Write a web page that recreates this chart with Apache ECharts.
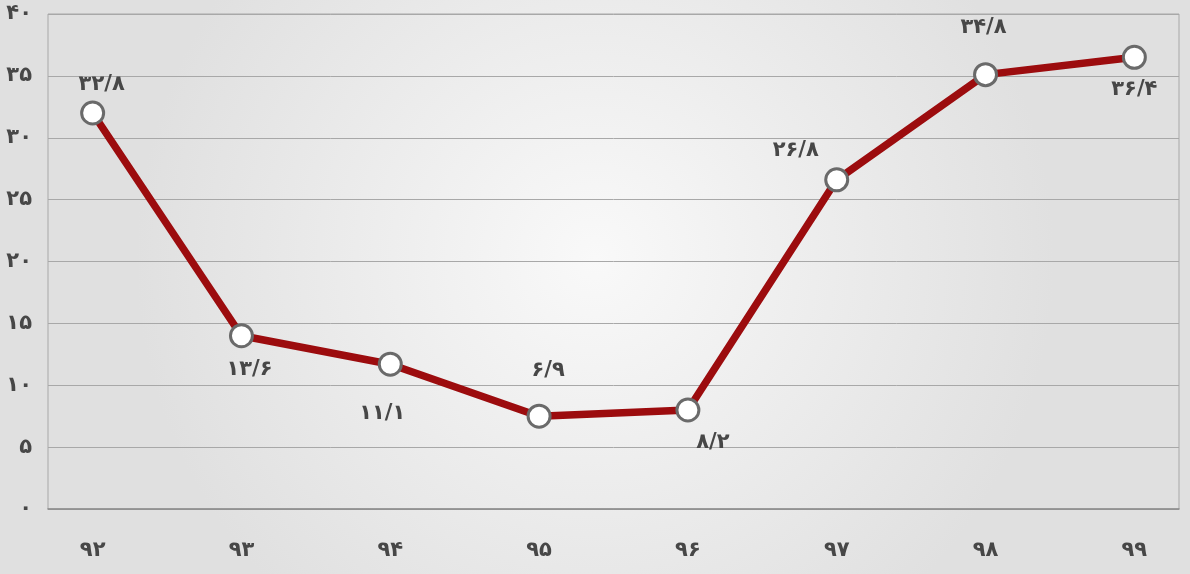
<!DOCTYPE html>
<html>
<head>
<meta charset="utf-8">
<script src="https://cdn.jsdelivr.net/npm/echarts@6/dist/echarts.min.js"></script>
<style>
html, body { margin: 0; padding: 0; }
#chart { width: 1190px; height: 574px; }
</style>
</head>
<body>
<div id="chart"></div>
<script>
// سال‌ها و مقادیر
var years = ['۹۲', '۹۳', '۹۴', '۹۵', '۹۶', '۹۷', '۹۸', '۹۹'];
var values = [32.0, 14.0, 11.7, 7.5, 8.0, 26.6, 35.1, 36.5];
var valueLabels = ['۳۲/۸', '۱۳/۶', '۱۱/۱', '۶/۹', '۸/۲', '۲۶/۸', '۳۴/۸', '۳۶/۴'];
var yTicks = [0, 5, 10, 15, 20, 25, 30, 35, 40];

// label placement for each point
var labelOffsets = [[9, -28], [8, 34], [-8, 49], [9, -46], [25, 33], [-41, -29], [-2, -47], [0, 32]];

function faDigits(n) {
    return String(n).replace(/\d/g, function (d) { return '۰۱۲۳۴۵۶۷۸۹'[d]; });
}

var textColor = '#474747';
var fontFamily = '"DejaVu Sans", sans-serif';

var myChart = echarts.init(document.getElementById('chart'));
var option = {
    backgroundColor: {
        type: 'radial', x: 0.5, y: 0.45, r: 0.8,
        colorStops: [
            { offset: 0, color: '#f9f9f9' },
            { offset: 1, color: '#e0e0e0' }
        ]
    },
    grid: {
        left: 48, right: 11, top: 14, bottom: 65,
        show: true,
        borderColor: '#a8a8a8',
        borderWidth: 1
    },
    xAxis: {
        type: 'value',
        min: -0.3,
        max: 7.3,
        splitLine: { show: false },
        axisTick: { show: false },
        axisLine: { lineStyle: { color: '#8a8a8a', width: 1.5 } },
        axisLabel: {
            customValues: years.map(function (y, i) { return i; }),
            formatter: function (v) { return years[Math.round(v)]; },
            color: textColor,
            fontSize: 21,
            fontWeight: 'bold',
            fontFamily: fontFamily,
            margin: 31
        }
    },
    yAxis: {
        type: 'value',
        min: yTicks[0],
        max: yTicks[yTicks.length - 1],
        interval: 5,
        axisLine: { show: false },
        axisTick: { show: false },
        splitLine: { lineStyle: { color: '#a8a8a8', width: 1 } },
        axisLabel: {
            formatter: function (v) { return faDigits(v); },
            color: textColor,
            fontSize: 21,
            fontWeight: 'bold',
            fontFamily: fontFamily,
            margin: 16
        }
    },
    series: [{
        type: 'line',
        data: values.map(function (v, i) {
            return {
                value: [i, v],
                label: { offset: labelOffsets[i] }
            };
        }),
        symbol: 'circle',
        symbolSize: 22,
        lineStyle: { color: '#9c0c0e', width: 7.5 },
        itemStyle: { color: '#ffffff', borderColor: '#6a6a6a', borderWidth: 3 },
        label: {
            show: true,
            position: 'inside',
            formatter: function (p) { return valueLabels[p.dataIndex]; },
            color: textColor,
            fontSize: 21,
            fontWeight: 'bold',
            fontFamily: fontFamily
        },
        z: 3
    }]
};
myChart.setOption(option);
</script>
</body>
</html>
